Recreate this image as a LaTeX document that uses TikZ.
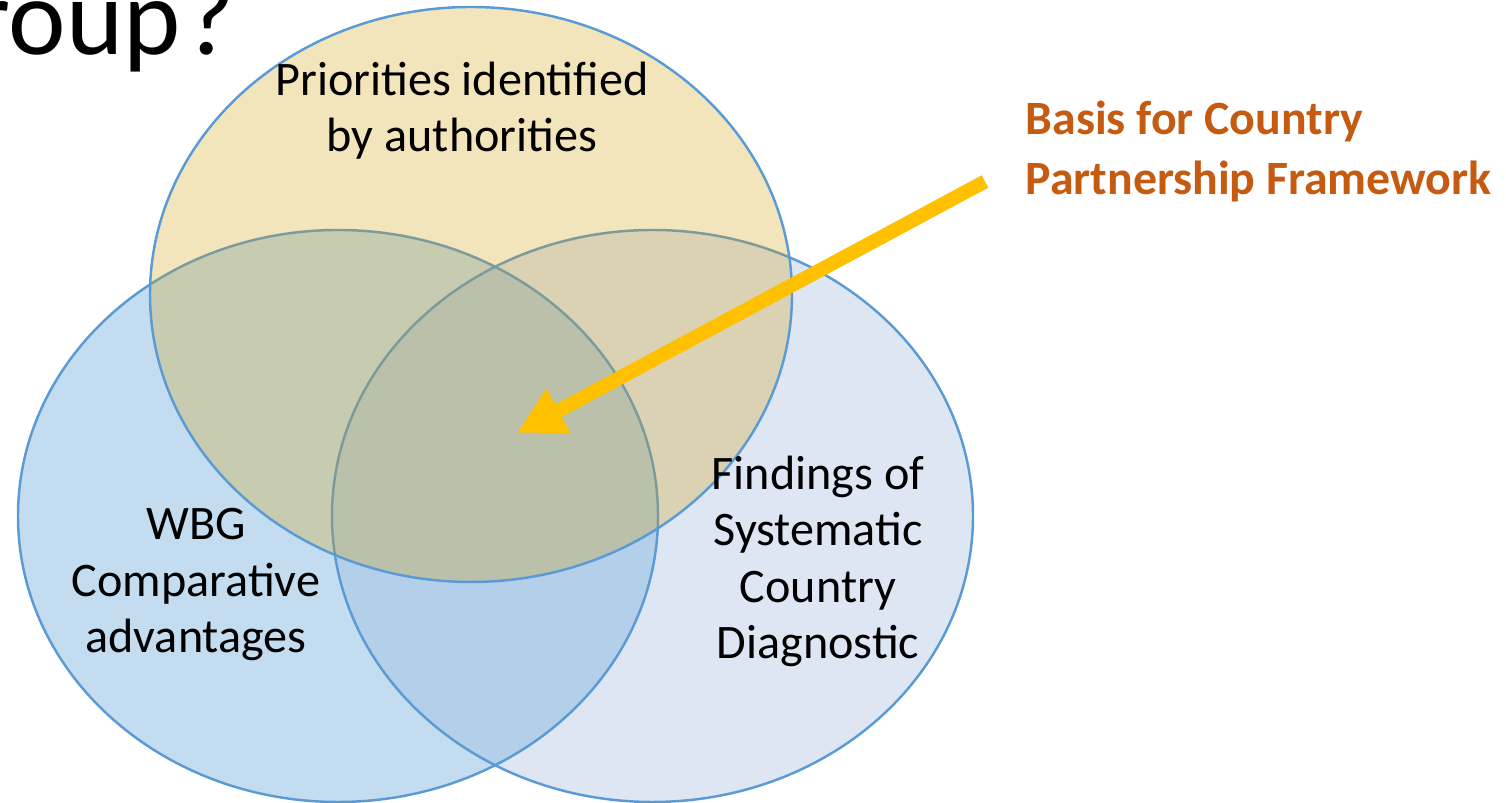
\documentclass[tikz,border=0pt]{standalone}
\usepackage{fontspec}
\setmainfont{Carlito}
\usetikzlibrary{arrows.meta}
\definecolor{vennline}{RGB}{91,155,213}
\definecolor{wbgblue}{RGB}{137,185,225}
\definecolor{scdblue}{RGB}{189,205,233}
\definecolor{authgold}{RGB}{208,158,9}
\definecolor{cpforange}{RGB}{197,90,17}
\definecolor{cpfarrow}{RGB}{255,192,0}
\begin{document}
\begin{tikzpicture}[lbl/.style={align=center, inner sep=0pt, font=\fontsize{13.7}{16.1}\selectfont},
ring/.style={draw=vennline, line width=0.7pt}]
\useasboundingbox (0,0) rectangle (15.06,8.03);
%\draw[help lines] (0,0) grid (15,8);
\node[anchor=base east, inner sep=0pt, font=\fontsize{31}{36}\selectfont] (title) at (2.36,7.48) {roup\kern0.04cm?};
% the three sets
\fill[scdblue, fill opacity=0.5] (6.525,2.87) ellipse [x radius=3.205cm, y radius=2.86cm];
\fill[wbgblue, fill opacity=0.5] (3.38,2.87) ellipse [x radius=3.2cm, y radius=2.86cm];
\draw[ring] (6.525,2.87) ellipse [x radius=3.205cm, y radius=2.86cm];
\draw[ring] (3.38,2.87) ellipse [x radius=3.2cm, y radius=2.86cm];
\fill[authgold, fill opacity=0.28] (4.71,5.085) ellipse [x radius=3.21cm, y radius=2.875cm];
\draw[ring] (4.71,5.085) ellipse [x radius=3.21cm, y radius=2.875cm];
% anchor base sits on the last line
\node[lbl, anchor=base] (auth) at (4.62,6.51) {Priorities identified\\by authorities};
\node[lbl, anchor=base] (wbg) at (1.96,1.50) {WBG\\Comparative\\advantages};
\node[lbl, anchor=base] (scd) at (8.18,1.44) {Findings of\\Systematic\\Country\\Diagnostic};
\node[align=left, anchor=base west, inner sep=0pt, text=cpforange, font=\bfseries\fontsize{13.6}{17.1}\selectfont] (cpf) at (10.25,6.08) {Basis for Country\\Partnership Framework};
\coordinate (from) at (9.85,6.215);
\coordinate (into) at (5.17,3.70);
\draw[cpfarrow, line width=0.14cm, -{Triangle[length=0.47cm, width=0.47cm]}] (from) -- (into);
\end{tikzpicture}
\end{document}
